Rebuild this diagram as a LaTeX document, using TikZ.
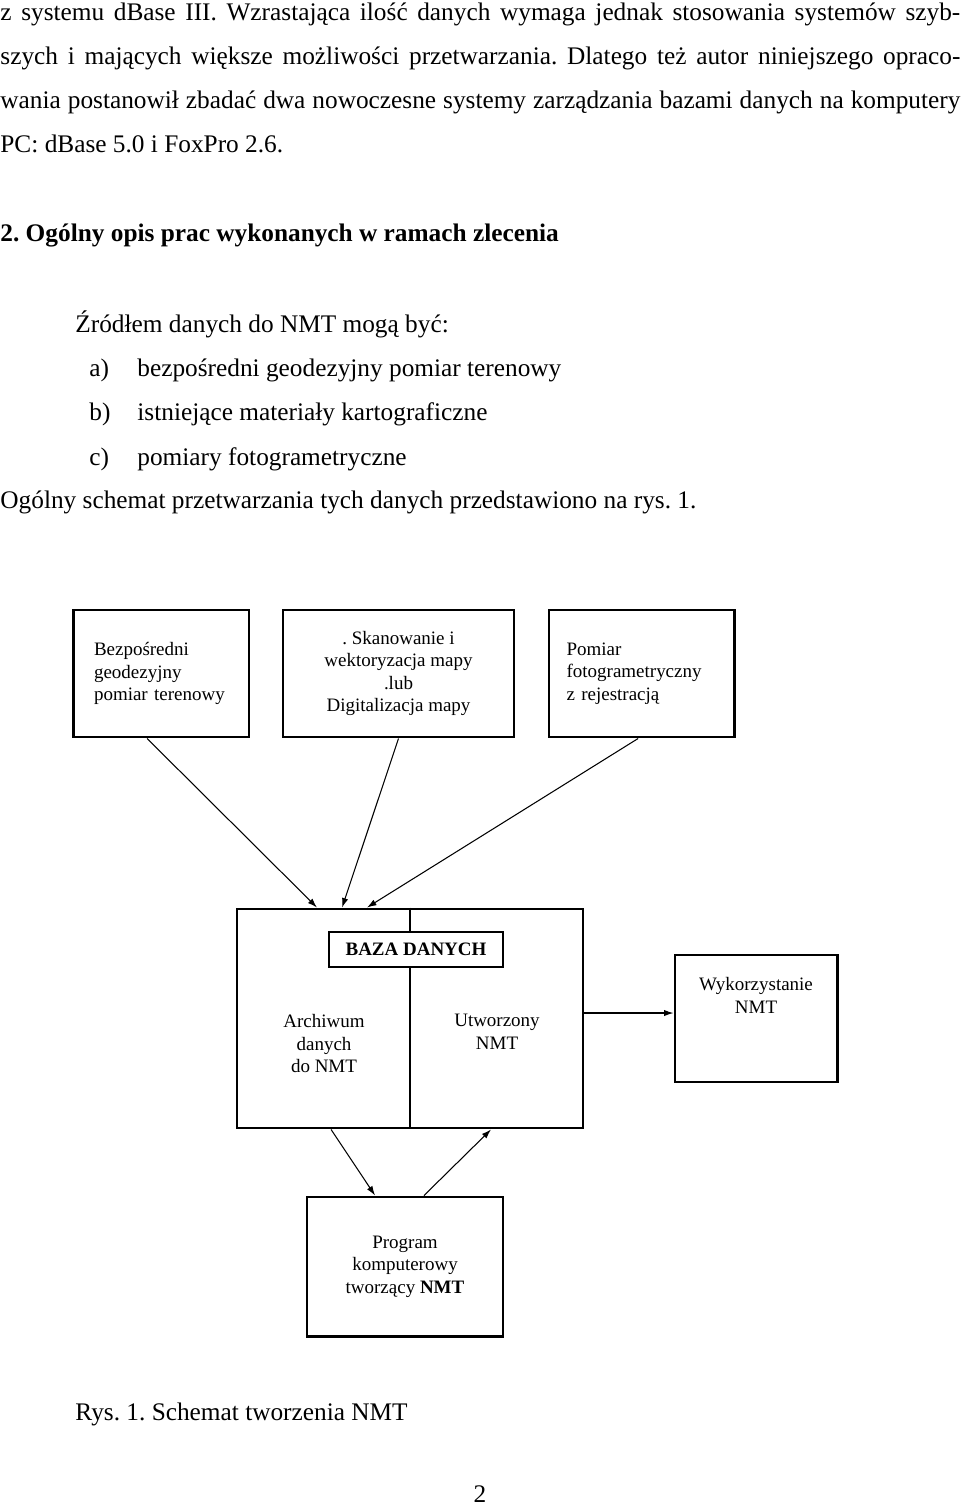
\documentclass[tikz,border=0pt]{standalone}
\usepackage{fontspec}
\setmainfont{Liberation Serif}
\usetikzlibrary{arrows.meta}
\frenchspacing
\begin{document}
\begin{tikzpicture}[x=0.474pt,y=-0.474pt,
      para/.style={anchor=base west,inner sep=0pt,font=\fontsize{12}{14}\selectfont},
      box/.style={draw,line width=1.4pt,minimum height=60.2pt,inner sep=0pt,
        font=\fontsize{9}{10.7}\selectfont},
      txt/.style={align=center,inner sep=0pt,font=\fontsize{9}{10.7}\selectfont},
      arr/.style={-{Latex[length=4.5pt,width=3pt]},line width=0.5pt},
      ]
        \useasboundingbox (0,0) rectangle (960,1505);

        \node [para] (L1) at (0,21) {\makebox[455pt][s]{z systemu dBase III. Wzrastająca ilość danych wymaga jednak stosowania systemów szyb-}};
        \node [para] (L2) at (0,65) {\makebox[455pt][s]{szych i mających większe możliwości przetwarzania. Dlatego też autor niniejszego opraco-}};
        \node [para] (L3) at (0,109) {\makebox[455pt][s]{wania postanowił zbadać dwa nowoczesne systemy zarządzania bazami danych na komputery}};
        \node [para] (L4) at (0,153) {PC: dBase 5.0 i FoxPro 2.6.};
        \node [para,font=\bfseries\fontsize{12}{14}\selectfont] (head) at (0,242)
          {2. Ogólny opis prac wykonanych w ramach zlecenia};
        \node [para] (intro) at (75,333) {Źródłem danych do NMT mogą być:};
        \foreach \lab/\txt/\yy in {a/bezpośredni geodezyjny pomiar terenowy/376,
            b/istniejące materiały kartograficzne/420,
            c/pomiary fotogrametryczne/465} {
          \node [para] (it\lab) at (89,\yy) {\lab)};
          \node [para] (itt\lab) at (137,\yy) {\txt};
        }
        \node [para] (outro) at (0,508) {Ogólny schemat przetwarzania tych danych przedstawiono na rys. 1.};

        \node [box,minimum width=83.4pt,text width=63.5pt,align=left] (src1) at (161,673.5)
          {Bezpośredni\\geodezyjny\\pomiar terenowy};
        \node [box,minimum width=109.5pt,align=center] (src2) at (398.5,673.5)
          {. Skanowanie i\\wektoryzacja mapy\\.lub\\Digitalizacja mapy};
        \node [box,minimum width=87.7pt,text width=71pt,align=left] (src3) at (641.5,673.5)
          {Pomiar\\fotogrametryczny\\z rejestracją};

        \node [box,minimum width=164pt,minimum height=103.8pt] (db) at (410,1018.5) {};
        \draw [line width=0.7pt] (db.north) -- (db.south);
        \node [draw,line width=0.7pt,fill=white,minimum width=82.5pt,minimum height=16.6pt,
          inner sep=0pt,font=\bfseries\fontsize{9}{10.7}\selectfont] (dblbl) at (416,949.5) {BAZA DANYCH};
        \node [txt,anchor=north] (arch) at (324,1014) {Archiwum\\danych\\do NMT};
        \node [txt,anchor=north] (made) at (497,1014) {Utworzony\\NMT};

        \node [box,minimum width=76.8pt] (use) at (756,1018.5) {};
        \node [txt,anchor=north] (usetxt) at (756,977) {Wykorzystanie\\NMT};

        \node [box,minimum width=92.9pt,minimum height=65.9pt,align=center] (prog) at (405,1266.5)
          {Program\\komputerowy\\tworzący \textbf{NMT}};

        \draw [arr] ([xshift=-6.6pt]src1.south) -- ([xshift=-44.1pt]db.north);
        \draw [arr] (src2.south) -- ([xshift=-32.2pt]db.north);
        \draw [arr] ([xshift=-1.6pt]src3.south) -- ([xshift=-20.4pt]db.north);
        \draw [arr] ([xshift=-37.4pt]db.south) -- ([xshift=-14.2pt]prog.north);
        \draw [arr] ([xshift=9pt]prog.north) -- ([xshift=38.4pt]db.south);
        \draw [arr] ([yshift=2.6pt]db.east) -- ([yshift=2.6pt]use.west);

        \node [para] (cap) at (75,1420) {Rys. 1. Schemat tworzenia NMT};
        \node [para,anchor=base] (pnum) at (480,1502) {2};
      \end{tikzpicture}
\end{document}
